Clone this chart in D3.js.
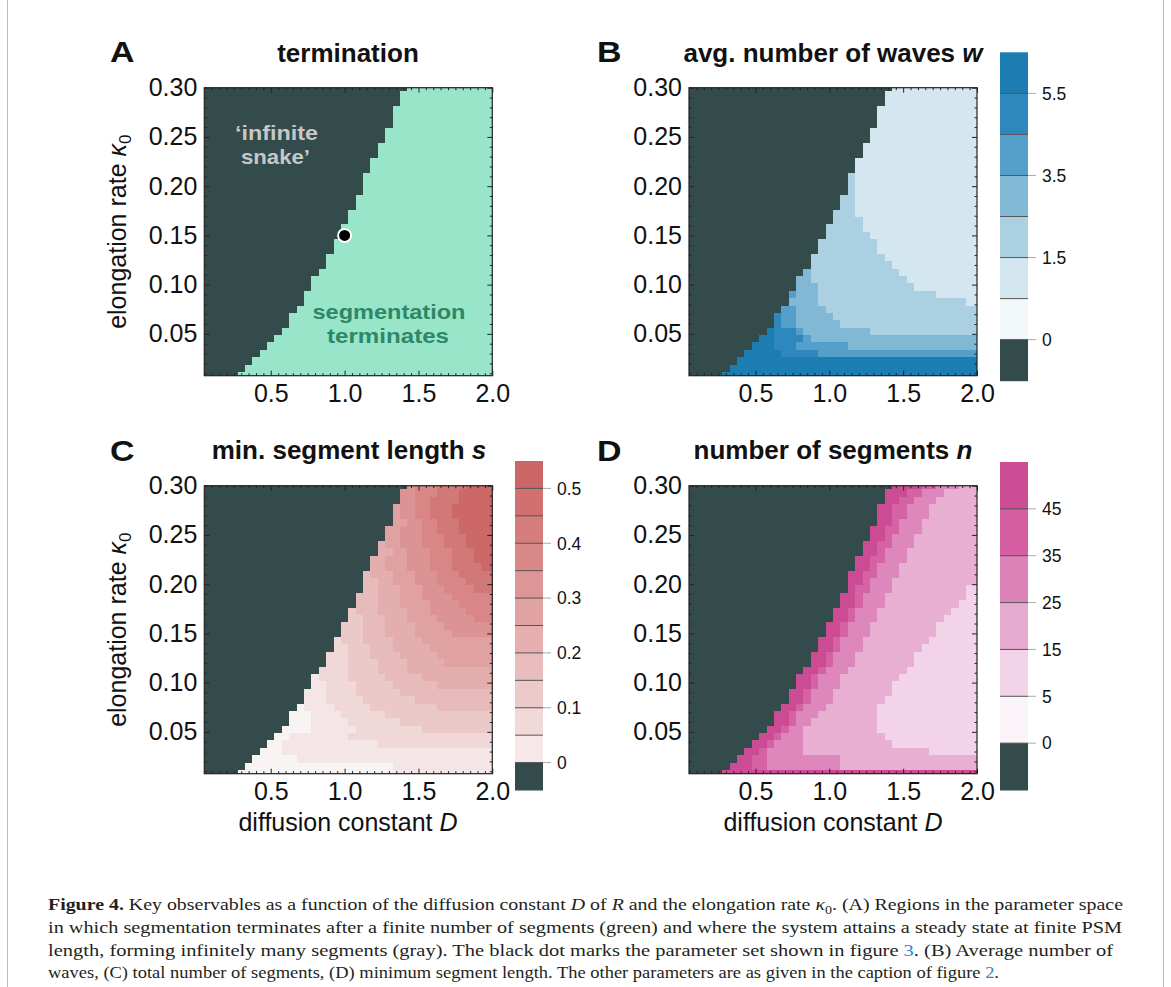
<!DOCTYPE html>
<html><head><meta charset="utf-8">
<script src="https://cdnjs.cloudflare.com/ajax/libs/d3/7.8.5/d3.min.js"></script>
<style>body{margin:0;background:#fff}</style>
</head><body>
<svg id="c" width="1171" height="987"></svg>
<script>
// ---------------- DATA ----------------
// grid of the diffusion constant D (columns, 1-based index k)
const dGrid = [0.05,0.10,0.15,0.20,0.25,0.30,0.35,0.40,0.45,0.50,0.55,0.60,0.65,0.70,0.75,0.80,0.85,0.90,0.95,1.00,
               1.05,1.10,1.15,1.20,1.25,1.30,1.35,1.40,1.45,1.50,1.55,1.60,1.65,1.70,1.75,1.80,1.85,1.90,1.95,2.00];
// grid of the elongation rate kappa0 (rows, bottom to top)
const kappaGrid = [0.0075,0.0150,0.0225,0.0300,0.0375,0.0450,0.0525,0.0600,0.0675,0.0750,0.0825,0.0900,0.0975,0.1050,
                   0.1125,0.1200,0.1275,0.1350,0.1425,0.1500,0.1575,0.1650,0.1725,0.1800,0.1875,0.1950,0.2025,0.2100,
                   0.2175,0.2250,0.2325,0.2400,0.2475,0.2550,0.2625,0.2700,0.2775,0.2850,0.2925,0.3000];
const xTicks = [0.5, 1.0, 1.5, 2.0];
const yTicks = [0.05, 0.10, 0.15, 0.20, 0.25, 0.30];

// Panel A: first column (index into dGrid) where segmentation terminates, rows top (0.30) to bottom
const terminationStartK = [29,28,28,27,27,27,26,26,25,25,24,24,23,23,23,22,22,21,21,20,
                           20,19,19,18,18,17,16,16,15,15,14,13,13,12,11,10,9,8,7,6];
const markedPoint = {D: 1.0, kappa: 0.15};

// Panel B: avg. number of waves, class per cell ("startColumn:class"), rows top to bottom
const wavesRows = [
 "29:1","28:1","28:1","27:1","27:1","27:1","26:1","26:1","25:1","25:1",
 "24:1","24:1","23:2 24:1","23:2 24:1","23:2 24:1","22:2 24:1","22:2 24:1","21:2 24:1","21:2 25:1","20:2 25:1",
 "20:2 26:1","19:2 27:1","19:2 27:1","18:2 28:1","18:2 29:1","17:3 18:2 30:1","16:3 18:2 31:1","16:3 19:2 32:1","15:4 16:3 19:2 35:1","15:3 19:2 39:1",
 "14:4 16:3 20:2","13:5 14:4 16:3 21:2","13:5 14:4 16:3 22:2","12:6 13:5 16:4 17:3 26:2","11:6 13:5 17:4 18:3","10:6 13:5 16:4 23:3","9:6 14:5 19:4","8:6","7:6","6:6"
];
const wavesClasses = ["6","5","4","3","2","1","0","inf"];          // colour bar, top to bottom
const wavesColors  = ["#1b7db2","#2f88bd","#55a0ca","#80b8d5","#abd0e2","#d4e6f0","#f2f7fa","#344b4b"];
const wavesLabels  = [{after:0,text:"5.5"},{after:2,text:"3.5"},{after:4,text:"1.5"},{after:6,text:"0"}];

// Panel C: min. segment length, class per cell (1 = 0-0.05 ... 11 = 0.5-0.55)
const lengthRows = [
 "29:8 30:9 33:10 37:11","28:8 30:9 33:10 36:11","28:8 30:9 32:10 36:11","27:7 28:8 30:9 32:10 35:11","27:7 28:8 30:9 32:10 35:11",
 "27:7 29:8 31:9 33:10 36:11","26:7 28:8 31:9 33:10 36:11","26:7 28:8 31:9 34:10 37:11","25:6 26:7 28:8 31:9 34:10 37:11","25:6 27:7 29:8 32:9 35:10 38:11",
 "24:6 26:7 29:8 32:9 35:10 38:11","24:6 26:7 29:8 32:9 35:10 39:11","23:5 24:6 27:7 30:8 33:9 36:10","23:5 25:6 27:7 30:8 33:9 37:10","23:5 25:6 28:7 31:8 34:9 38:10",
 "22:5 25:6 28:7 31:8 35:9","22:5 25:6 28:7 32:8 36:9","21:4 22:5 25:6 29:7 32:8 37:9","21:4 23:5 26:6 29:7 33:8 38:9","20:4 23:5 26:6 30:7 34:8",
 "20:4 23:5 26:6 30:7 35:8","19:3 20:4 23:5 27:6 31:7","19:3 21:4 24:5 27:6 32:7","18:3 21:4 24:5 28:6 33:7","18:3 21:4 25:5 29:6 34:7",
 "17:3 21:4 25:5 29:6","16:2 17:3 21:4 26:5 31:6","16:2 18:3 22:4 27:5 33:6","15:2 18:3 22:4 28:5","15:2 18:3 23:4 30:5",
 "14:1 15:2 19:3 24:4 33:5","13:1 16:2 20:3 26:4","13:1 16:2 21:3 28:4","12:1 16:2 22:3 31:4","11:1 13:2 21:3",
 "10:1 12:2 25:3","9:1 12:2","8:1 14:2","7:1 27:2","6:1 27:2"
];
const lengthClasses = ["11","10","9","8","7","6","5","4","3","2","1","inf"];
const lengthColors  = ["#cc6565","#d17070","#d57c7c","#d98888","#dd9595","#e1a2a2","#e5afaf","#e9bdbd","#edcaca","#f1d9d9","#f6e8e8","#344b4b"];
const lengthLabels  = [{after:0,text:"0.5"},{after:2,text:"0.4"},{after:4,text:"0.3"},{after:6,text:"0.2"},{after:8,text:"0.1"},{after:10,text:"0"}];
const lengthPlotColors = {"1":"#f9f4f4","2":"#f4e6e6","3":"#f0d8d8","4":"#ecc9c9","5":"#e8bbbb","6":"#e4aeae","7":"#e0a1a1","8":"#dc9393","9":"#d88686","10":"#d37878","11":"#cd6868"};

// Panel D: number of segments, class per cell (1 = 0-5, 2 = 5-15, 3 = 15-25, 4 = 25-35, 5 = 35-45, 6 = 45+)
const segmentsRows = [
 "29:6 33:5 35:4 38:3","28:6 31:5 33:4 36:3","28:6 30:5 32:4 35:3","27:6 29:5 31:4 34:3","27:6 29:5 31:4 34:3",
 "27:6 29:5 30:4 33:3","26:6 28:5 30:4 33:3","26:6 28:5 29:4 32:3","25:6 27:5 29:4 32:3","25:6 27:5 28:4 31:3",
 "24:6 26:5 28:4 31:3","24:6 26:5 27:4 30:3","23:6 25:5 27:4 30:3","23:6 25:5 26:4 29:3","23:6 24:5 26:4 29:3 39:2",
 "22:6 24:5 25:4 28:3 39:2","22:6 24:5 25:4 28:3 38:2","21:6 23:5 24:4 27:3 37:2","21:6 23:5 24:4 27:3 36:2","20:6 22:5 23:4 26:3 35:2",
 "20:6 22:5 23:4 26:3 35:2","19:6 21:5 22:4 25:3 34:2","19:6 21:5 22:4 25:3 33:2","18:6 20:5 21:4 24:3 32:2","18:6 20:5 21:4 24:3 32:2",
 "17:6 19:5 20:4 23:3 31:2","16:6 18:5 19:4 22:3 30:2","16:6 18:5 19:4 22:3 29:2","15:6 17:5 18:4 21:3 29:2","15:6 17:5 18:4 21:3 28:2",
 "14:6 16:5 17:4 20:3 27:2","13:6 15:5 16:4 19:3 27:2","13:6 15:5 16:4 18:3 27:2","12:6 14:5 15:4 17:3 27:2","11:6 13:5 14:4 17:3 28:2",
 "10:6 12:5 13:4 17:3 29:2","9:6 11:5 12:4 17:3 34:2","8:6 10:5 12:4 22:3","7:6 10:5 12:4 22:3","6:6"
];
const segmentsClasses = ["6","5","4","3","2","1","inf"];
const segmentsColors  = ["#cc4d96","#d55da1","#dd82b8","#e6a9cf","#f2d3e7","#fbf4f8","#344b4b"];
const segmentsLabels  = [{after:0,text:"45"},{after:1,text:"35"},{after:2,text:"25"},{after:3,text:"15"},{after:4,text:"5"},{after:5,text:"0"}];
const segmentsPlotColors = {"1":"#fbf4f8","2":"#f3d3e8","3":"#e8afd2","4":"#de87bc","5":"#d562a3","6":"#cb4c95"};

const captionLines = [
 [{t:"Figure 4.",b:1},{t:" Key observables as a function of the diffusion constant "},{t:"D",i:1},{t:" of "},{t:"R",i:1},{t:" and the elongation rate "},{t:"κ",i:1},{t:"0",sub:1},{t:". (A) Regions in the parameter space",after:1}],
 [{t:"in which segmentation terminates after a finite number of segments (green) and where the system attains a steady state at finite PSM"}],
 [{t:"length, forming infinitely many segments (gray). The black dot marks the parameter set shown in figure "},{t:"3",blue:1},{t:". (B) Average number of"}],
 [{t:"waves, (C) total number of segments, (D) minimum segment length. The other parameters are as given in the caption of figure "},{t:"2",blue:1},{t:"."}]
];
const captionWidths = [1075, 1074, 1065, 951];

// ---------------- DRAWING ----------------
const svg = d3.select('#c');
const FONT = '"Liberation Sans", Arial, Helvetica, sans-serif';
const GRAY = '#344b4b';
const SIZE = 288;

svg.append('rect').attr('width',1171).attr('height',987).attr('fill','#fff');
svg.append('line').attr('x1',7.5).attr('x2',7.5).attr('y1',0).attr('y2',987).attr('stroke','#bbb');
svg.append('line').attr('x1',1163.5).attr('x2',1163.5).attr('y1',0).attr('y2',987).attr('stroke','#bbb');

function parseRuns(s){ return s.trim().split(/\s+/).map(t=>{const p=t.split(':'); return [+p[0], p[1]];}); }

let clipId = 0;
function drawPanel(L, T, rows, colorOf){
  const x = d3.scaleLinear().domain([0.05, 2.0]).range([L, L+SIZE]);
  const y = d3.scaleLinear().domain([0.0075, 0.30]).range([T+SIZE, T]);
  const id = 'clip'+(clipId++);
  svg.append('clipPath').attr('id',id).append('rect').attr('x',L).attr('y',T).attr('width',SIZE).attr('height',SIZE);
  const g = svg.append('g').attr('clip-path',`url(#${id})`);
  g.append('rect').attr('x',L).attr('y',T).attr('width',SIZE).attr('height',SIZE).attr('fill',GRAY);
  const cells = [];
  rows.forEach((s,i)=>{
    const kap = kappaGrid[kappaGrid.length-1-i];
    const runs = parseRuns(s);
    runs.forEach((r,j)=>{
      const k1 = r[0], k2 = j+1<runs.length ? runs[j+1][0]-1 : dGrid.length;
      cells.push({d0:dGrid[k1-1]-0.025, d1:dGrid[k2-1]+0.025, kap, c:r[1]});
    });
  });
  g.selectAll('rect.cell').data(cells).join('rect').attr('class','cell')
    .attr('shape-rendering','crispEdges')
    .attr('x',d=>x(d.d0)).attr('width',d=>x(d.d1)-x(d.d0)+0.6)
    .attr('y',d=>y(d.kap+0.00375)).attr('height',d=>y(d.kap-0.00375)-y(d.kap+0.00375)+0.6)
    .attr('fill',d=>colorOf(d.c));

  // axes (Mathematica-style frame ticks, inward)
  const minorX = dGrid.filter(v=>!xTicks.some(t=>Math.abs(t-v)<1e-9) && v>0.051);
  const minorY = d3.range(1,31).map(v=>v/100).filter(v=>Math.round(v*100)%5!==0);
  const style = sel=>{ sel.select('.domain').remove(); sel.selectAll('line').attr('stroke','#222'); sel.selectAll('text').attr('font-family',FONT).attr('font-size',25).attr('fill','#111'); };
  svg.append('g').attr('transform',`translate(0,${T+SIZE})`).call(d3.axisBottom(x).tickValues(xTicks).tickFormat(d3.format('.1f')).tickSize(-5).tickPadding(9)).call(style);
  svg.append('g').attr('transform',`translate(0,${T+SIZE})`).call(d3.axisBottom(x).tickValues(minorX).tickFormat('').tickSize(-2.5)).call(style);
  svg.append('g').attr('transform',`translate(0,${T})`).call(d3.axisTop(x).tickValues(xTicks).tickFormat('').tickSize(-5)).call(style);
  svg.append('g').attr('transform',`translate(0,${T})`).call(d3.axisTop(x).tickValues(minorX).tickFormat('').tickSize(-2.5)).call(style);
  svg.append('g').attr('transform',`translate(${L},0)`).call(d3.axisLeft(y).tickValues(yTicks).tickFormat(d3.format('.2f')).tickSize(-5).tickPadding(7)).call(style);
  svg.append('g').attr('transform',`translate(${L},0)`).call(d3.axisLeft(y).tickValues(minorY).tickFormat('').tickSize(-2.5)).call(style);
  svg.append('g').attr('transform',`translate(${L+SIZE},0)`).call(d3.axisRight(y).tickValues(yTicks).tickFormat('').tickSize(-5)).call(style);
  svg.append('g').attr('transform',`translate(${L+SIZE},0)`).call(d3.axisRight(y).tickValues(minorY).tickFormat('').tickSize(-2.5)).call(style);
  svg.append('rect').attr('x',L).attr('y',T).attr('width',SIZE).attr('height',SIZE).attr('fill','none').attr('stroke','#222').attr('stroke-width',1.2);
  return {x,y};
}

function drawColorbar(X, T, B, classes, colors, labels){
  const band = d3.scaleBand().domain(classes).range([T,B]).padding(0);
  const g = svg.append('g');
  g.selectAll('rect').data(classes).join('rect')
    .attr('x',X).attr('width',28).attr('y',d=>band(d)).attr('height',band.bandwidth()+0.5)
    .attr('fill',(d,i)=>colors[i]);
  classes.slice(1).forEach(c=>{
    g.append('line').attr('x1',X).attr('x2',X+28).attr('y1',band(c)).attr('y2',band(c)).attr('stroke','#555').attr('stroke-width',1);
  });
  labels.forEach(l=>{
    const yy = band(classes[l.after+1]);
    g.append('line').attr('x1',X+28).attr('x2',X+36).attr('y1',yy).attr('y2',yy).attr('stroke','#aaa');
    g.append('text').attr('x',X+42).attr('y',yy).attr('dy','0.36em').attr('font-family',FONT).attr('font-size',17.5).attr('fill','#111').text(l.text);
  });
}

// Panel A
const aRows = terminationStartK.map(k=>`${k}:T`);
const pA = drawPanel(204.3, 87.7, aRows, ()=>'#98e5ca');
// Panel B
const bCol = {"0":"#f2f7fa","1":"#d4e6f0","2":"#abd0e2","3":"#80b8d5","4":"#55a0ca","5":"#2f88bd","6":"#1b7db2"};
drawPanel(689, 87.7, wavesRows, c=>bCol[c]);
// Panel C
drawPanel(204.3, 485.7, lengthRows, c=>lengthPlotColors[c]);
// Panel D
drawPanel(689, 485.7, segmentsRows, c=>segmentsPlotColors[c]);

drawColorbar(1000, 52.3, 380.7, wavesClasses, wavesColors, wavesLabels);
drawColorbar(515, 461, 790, lengthClasses, lengthColors, lengthLabels);
drawColorbar(1000, 462, 790, segmentsClasses, segmentsColors, segmentsLabels);

// black dot in A
svg.append('circle').attr('cx',pA.x(markedPoint.D)).attr('cy',pA.y(markedPoint.kappa)).attr('r',6.5)
  .attr('fill','#000').attr('stroke','#fff').attr('stroke-width',2);

// annotations A
function label(x,y,s,w,fill){
  svg.append('text').attr('x',x-w/2).attr('y',y).attr('font-family',FONT).attr('font-size',20.5).attr('font-weight','bold')
    .attr('fill',fill).attr('textLength',w).attr('lengthAdjust','spacingAndGlyphs').text(s);
}
label(276.5,140,'\u2018infinite',83,'#c6c8c8');
label(275.5,164,'snake\u2019',69,'#c6c8c8');
label(389,319,'segmentation',153,'#2e8766');
label(388,343,'terminates',122,'#2e8766');

// panel letters
[['A',110,62],['B',597,62],['C',110,461],['D',597,461]].forEach(([s,x,y])=>{
  svg.append('text').attr('transform',`translate(${x},${y}) scale(1.15,1)`).attr('font-family',FONT).attr('font-size',29.5).attr('font-weight','bold').attr('fill','#111').text(s);
});

// titles
function title(cx,y,main,ital){
  const t = svg.append('text').attr('x',cx).attr('y',y).attr('text-anchor','middle').attr('font-family',FONT).attr('font-size',26).attr('font-weight','bold').attr('fill','#111');
  t.append('tspan').text(main);
  if(ital) t.append('tspan').attr('font-style','italic').text(ital);
}
title(348,62,'termination');
title(833,62,'avg. number of waves ','w');
title(349,459,'min. segment length ','s');
title(833,459,'number of segments ','n');

// axis labels
function ylab(cx,cy){
  const t = svg.append('text').attr('transform',`translate(${cx},${cy}) rotate(-90)`).attr('text-anchor','middle')
    .attr('font-family',FONT).attr('font-size',25).attr('fill','#111');
  t.append('tspan').text('elongation rate ');
  t.append('tspan').attr('font-style','italic').text('κ');
  t.append('tspan').attr('font-size',17).attr('dy',5).text('0');
}
ylab(126,231.7); ylab(126,629.7);
function xlab(cx,y){
  const t = svg.append('text').attr('x',cx).attr('y',y).attr('text-anchor','middle').attr('font-family',FONT).attr('font-size',25).attr('fill','#111');
  t.append('tspan').text('diffusion constant ');
  t.append('tspan').attr('font-style','italic').text('D');
}
xlab(348,831); xlab(833,831);

// caption
const capY = [910, 933, 956, 978];
captionLines.forEach((line,i)=>{
  const t = svg.append('text').attr('x',48).attr('y',capY[i]).attr('font-family','"Liberation Serif", "Times New Roman", serif')
    .attr('font-size',17).attr('fill','#231f20').attr('textLength',captionWidths[i]).attr('lengthAdjust','spacingAndGlyphs');
  line.forEach(p=>{
    const s = t.append('tspan').text(p.t);
    if(p.b) s.attr('font-weight','bold');
    if(p.i) s.attr('font-style','italic');
    if(p.blue) s.attr('fill','#2a8ad0');
    if(p.sub) s.attr('font-size',12).attr('dy',4);
    if(p.after) s.attr('dy',-4);
  });
});
</script>
</body></html>
